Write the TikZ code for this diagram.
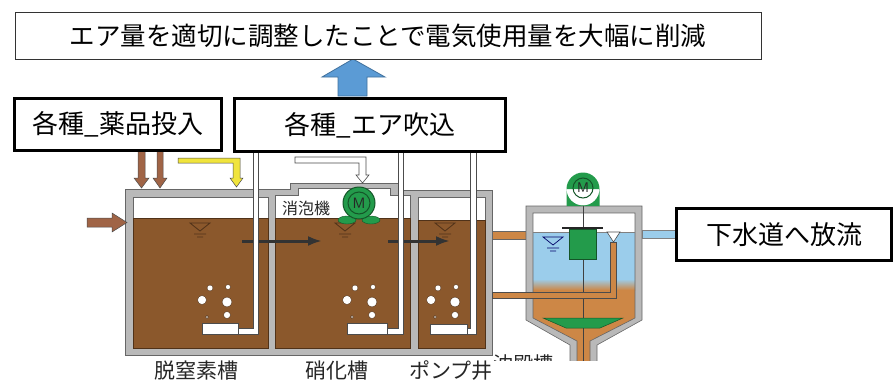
\documentclass[tikz,border=0pt]{standalone}
\usepackage{fontspec}
\newfontfamily\jpn{Noto Sans CJK JP}
\usetikzlibrary{arrows.meta}
\definecolor{sludge}{RGB}{139,88,44}
\definecolor{sludgeline}{RGB}{80,50,25}
\definecolor{wallgray}{RGB}{185,185,185}
\definecolor{water}{RGB}{155,205,235}
\definecolor{settled}{RGB}{205,135,70}
\definecolor{motorgreen}{RGB}{35,155,75}
\definecolor{darkgreen}{RGB}{20,85,40}
\definecolor{chem}{RGB}{160,100,70}
\definecolor{dose}{RGB}{240,228,60}
\definecolor{upblue}{RGB}{91,155,213}
\definecolor{upedge}{RGB}{65,113,157}

\begin{document}
\begin{tikzpicture}[x=1pt,y=-1pt,
  edge/.style={draw=black!60,line width=0.6pt},
  pipe/.style={fill=white,draw=black!70,line width=0.6pt},
  tag/.style={draw=black,line width=3pt,fill=white,inner sep=0pt,
    font=\jpn\fontsize{26}{30}\selectfont},
  tanklabel/.style={text=black!85,inner sep=0pt,font=\jpn\fontsize{21}{24}\selectfont}]
  \path[use as bounding box,fill=white] (0,0) rectangle (893,380);
  \filldraw[fill=wallgray,edge] (125,189) -- (290,189) -- (290,183) -- (398,183) -- (398,190)
    -- (492,190) -- (492,355) -- (125,355) -- cycle;
  \filldraw[fill=white,edge] (133,197) rectangle (268,348);
  \filldraw[fill=white,edge] (275,195) -- (298,195) -- (298,188) -- (390,188) -- (390,195)
    -- (410,195) -- (410,348) -- (275,348) -- cycle;
  \filldraw[fill=white,edge] (418,197) rectangle (485,348);
  \filldraw[fill=sludge,draw=sludgeline] (133,218) rectangle (268,348);
  \filldraw[fill=sludge,draw=sludgeline] (275,218) rectangle (410,348);
  \filldraw[fill=sludge,draw=sludgeline] (418,220) rectangle (485,348);
  \draw[sludgeline,line width=0.8pt] (190,223) -- (210,223) -- (200,231) -- cycle (194,234) -- (206,234) (197,237) -- (203,237);
  \draw[sludgeline,line width=0.8pt] (335,223) -- (355,223) -- (345,231) -- cycle (339,234) -- (351,234) (342,237) -- (348,237);
  \draw[sludgeline,line width=0.8pt] (435,223) -- (455,223) -- (445,231) -- cycle (439,234) -- (451,234) (442,237) -- (448,237);
  \draw[-{Latex[length=14pt,width=10pt]},line width=3pt,black!80] (242,241) -- (322,241);
  \draw[-{Latex[length=14pt,width=10pt]},line width=3pt,black!80] (388,241) -- (450,241);
  \filldraw[fill=white,draw=sludgeline,line width=0.4pt] (210,288) circle (3) (228,287) circle (2.5) (202,300) circle (4.5)
    (227,302) circle (5) (207,317) circle (1.5) (227,315) circle (3.5);
  \filldraw[fill=white,draw=sludgeline,line width=0.4pt] (355,288) circle (3) (373,287) circle (2.5) (347,300) circle (4.5)
    (372,302) circle (5) (352,317) circle (1.5) (372,315) circle (3.5);
  \filldraw[fill=white,draw=sludgeline,line width=0.4pt] (438,288) circle (3) (456,287) circle (2.5) (431,300) circle (4.5)
    (455,302) circle (5) (435,317) circle (1.5) (455,315) circle (3.5);
  \filldraw[pipe] (253,150) -- (258,150) -- (258,334) -- (238,334) -- (238,328) -- (253,328) -- cycle;
  \filldraw[pipe] (202,323) rectangle (238,334);
  \filldraw[pipe] (398,150) -- (403,150) -- (403,334) -- (387,334) -- (387,328) -- (398,328) -- cycle;
  \filldraw[pipe] (347,323) rectangle (387,334);
  \filldraw[pipe] (470,150) -- (476,150) -- (476,334) -- (467,334) -- (467,328) -- (470,328) -- cycle;
  \filldraw[pipe] (430,324) rectangle (467,334);
  \filldraw[fill=chem,draw=black!70,line width=0.5pt] (87,218) -- (112,218) -- (112,213) -- (127,222.5) -- (112,232)
    -- (112,227) -- (87,227) -- cycle;
  \filldraw[fill=chem,draw=black!70,line width=0.5pt] (138,150) -- (145,150) -- (145,178) -- (149,178) -- (141.5,188)
    -- (134,178) -- (138,178) -- cycle;
  \filldraw[fill=chem,draw=black!70,line width=0.5pt] (157,150) -- (163,150) -- (163,178) -- (167,178) -- (160,188)
    -- (153,178) -- (157,178) -- cycle;
  \filldraw[fill=dose,draw=black!70,line width=0.5pt] (178,158) -- (240,158) -- (240,178) -- (243,178) -- (236.5,187)
    -- (230,178) -- (233,178) -- (233,163) -- (178,163) -- cycle;
  \filldraw[pipe] (295,157) -- (366,157) -- (366,175) -- (369,175) -- (362.5,183) -- (356,175) -- (359,175)
    -- (359,163) -- (295,163) -- cycle;
  \filldraw[fill=motorgreen,draw=darkgreen] (347,220) ellipse (9 and 4) (371,220) ellipse (9 and 4);
  \filldraw[fill=motorgreen,draw=darkgreen,line width=1pt] (359,203) circle (16);
  \draw[darkgreen,line width=1pt] (359,203) circle (11) node[text=black!85,font=\sffamily\fontsize{15}{15}\selectfont] (defoamerM) {M};
  \node[text=black!85,font=\jpn\fontsize{16}{18}\selectfont] (defoamer) at (306,208) {消泡機};
  \filldraw[fill=settled,draw=black!60,line width=0.5pt] (492,231) rectangle (526,239);
  \filldraw[fill=water,draw=black!50,line width=0.5pt] (642,230) rectangle (676,238);
  \begin{scope}
    \clip (480,150) rectangle (893,360);
    \filldraw[fill=wallgray,edge] (526,206) -- (642,206) -- (642,320) -- (597,345) -- (597,365) -- (570,365)
      -- (570,345) -- (526,320) -- cycle;
    \begin{scope}
      \clip (533,213) -- (635,213) -- (635,318) -- (590,341) -- (590,365) -- (577,365) -- (577,341) -- (533,318) -- cycle;
      \fill[white] (533,213) rectangle (635,232);
      \fill[water] (533,232) rectangle (635,279);
      \shade[top color=water,bottom color=settled] (533,279) rectangle (635,290);
      \fill[settled] (533,290) rectangle (635,365);
    \end{scope}
    \draw[edge] (590,365) -- (590,341) -- (635,318) -- (635,213) -- (533,213) -- (533,318) -- (577,341) -- (577,365);
    \draw[black!50,line width=0.6pt] (533,232) -- (635,232);
    \draw[black!75,line width=0.8pt] (583,206) -- (583,365);
    \filldraw[fill=settled,draw=black!70,line width=0.5pt] (610,242) -- (616,242) -- (616,298) -- (492,298) -- (492,292)
      -- (610,292) -- cycle;
    \filldraw[fill=motorgreen,draw=darkgreen,line width=0.5pt] (543,318) -- (623,318) -- (600,328) -- (566,328) -- cycle;
  \end{scope}
  \draw[black!60!blue,line width=0.7pt] (543,237) -- (563,237) -- (553,245) -- cycle (547,248) -- (559,248) (550,251) -- (556,251);
  \draw[black!85,line width=1.5pt] (562,228) -- (603,228);
  \filldraw[fill=motorgreen,draw=darkgreen,line width=0.5pt] (569,229) rectangle (596,259);
  \filldraw[pipe] (607,232) -- (620,232) -- (613.5,242) -- cycle;
  \fill[motorgreen] (583,189) circle (16.5) (566.5,189) rectangle (599.5,206);
  \draw[darkgreen,line width=1pt] (583,188) circle (10) node[text=black!85,font=\sffamily\fontsize{14}{14}\selectfont] (settlerM) {M};
  \node[tanklabel] (denitrification) at (196,371) {脱窒素槽};
  \node[tanklabel] (nitrification) at (337,371) {硝化槽};
  \node[tanklabel] (pumpwell) at (451,371) {ポンプ井};
  \begin{scope}
    \clip (480,340) rectangle (570,360);
    \node[tanklabel,font=\jpn\fontsize{20}{22}\selectfont] (settler) at (523,364) {沈殿槽};
  \end{scope}
  \filldraw[fill=upblue,draw=upedge,line width=0.8pt] (353,59) -- (385,77) -- (367,77) -- (367,96) -- (338,96) -- (338,77)
    -- (322,77) -- cycle;
  \node[draw=black!80,line width=1pt,fill=white,inner sep=0pt,minimum width=746pt,minimum height=47pt,
    font=\jpn\fontsize{25.5}{28}\selectfont] (saving) at (388,36) {エア量を適切に調整したことで電気使用量を大幅に削減};
  \node[tag,minimum width=207pt,minimum height=52pt] (chemicals) at (118,124.5) {各種\_薬品投入};
  \node[tag,minimum width=271pt,minimum height=53pt] (aeration) at (370,125) {各種\_エア吹込};
  \node[tag,minimum width=215pt,minimum height=52pt] (discharge) at (784,234.5) {下水道へ放流};
\end{tikzpicture}
\end{document}
